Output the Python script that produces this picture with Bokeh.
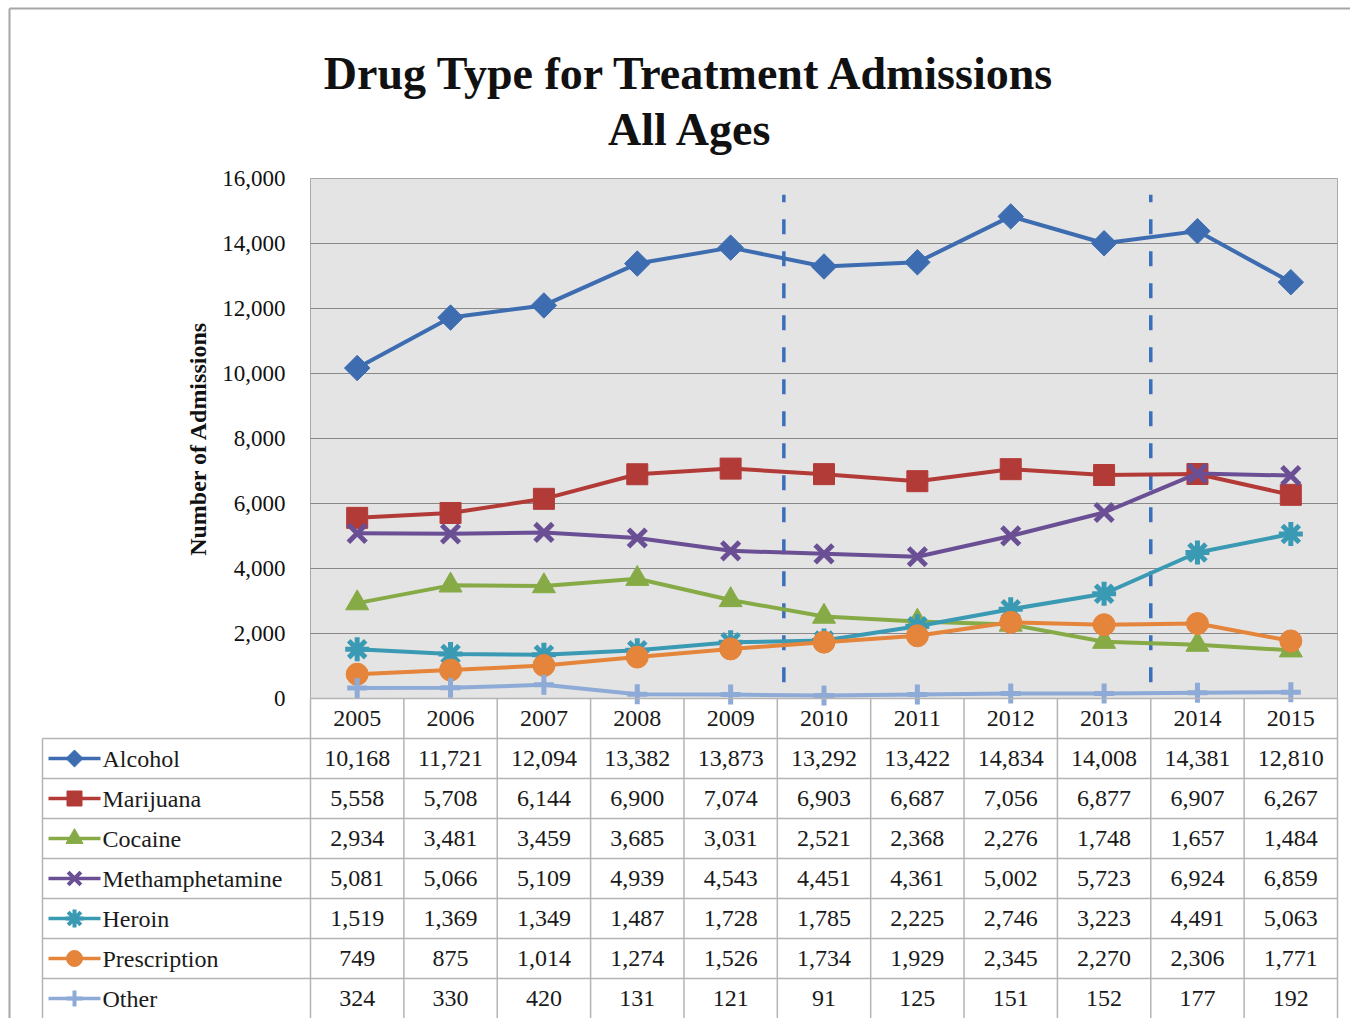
import math
from bokeh.plotting import figure
from bokeh.models import Range1d, FixedTicker, NumeralTickFormatter, LinearAxis
from bokeh.core.properties import value
from bokeh.embed import file_html
from bokeh.resources import INLINE

years = [2005, 2006, 2007, 2008, 2009, 2010, 2011, 2012, 2013, 2014, 2015]
alcohol = [10168, 11721, 12094, 13382, 13873, 13292, 13422, 14834, 14008, 14381, 12810]
marijuana = [5558, 5708, 6144, 6900, 7074, 6903, 6687, 7056, 6877, 6907, 6267]
cocaine = [2934, 3481, 3459, 3685, 3031, 2521, 2368, 2276, 1748, 1657, 1484]
meth = [5081, 5066, 5109, 4939, 4543, 4451, 4361, 5002, 5723, 6924, 6859]
heroin = [1519, 1369, 1349, 1487, 1728, 1785, 2225, 2746, 3223, 4491, 5063]
prescription = [749, 875, 1014, 1274, 1526, 1734, 1929, 2345, 2270, 2306, 1771]
other = [324, 330, 420, 131, 121, 91, 125, 151, 152, 177, 192]

names = ["Alcohol", "Marijuana", "Cocaine", "Methamphetamine", "Heroin", "Prescription", "Other"]
series = [alcohol, marijuana, cocaine, meth, heroin, prescription, other]
colors = ["#3d6db0", "#b23b38", "#86ab46", "#6b4f95", "#3b9ab3", "#e5843b", "#8eaad6"]
# diamond drawn as a square turned 45 degrees
markers = ["square", "square", "triangle", "x", "asterisk", "circle", "cross"]
angles = [math.pi / 4, 0, 0, 0, 0, 0, 0]
msizes = [18, 21, 23, 25, 24, 22, 20]
lsizes = [12, 15, 17, 18, 18, 16, 16]
period_marks = [2009.57, 2013.5]
y_ticks = [0, 2000, 4000, 6000, 8000, 10000, 12000, 14000, 16000]
title_lines = ["Drug Type for Treatment Admissions", "All Ages"]
y_label = "Number of Admissions"

FONT = "Liberation Serif"
W, H = 1350, 1018
# layout geometry in canvas pixels
PL, PR, PT, PB = 310, 1337, 178, 698      # plot area
ROW_H = 40
TBL_L = 42
COLW = (PR - PL) / 11.0
K = 16000.0 / (PB - PT)


def vx(px):
    return 2004.5 + (px - PL) / COLW


def vy(px):
    return (PB - px) * K


p = figure(width=W, height=H, output_backend="svg", toolbar_location=None,
           x_range=Range1d(vx(0), vx(W)), y_range=Range1d(vy(H), vy(0)),
           min_border=0, x_axis_location=None, y_axis_location=None)
p.outline_line_color = None
p.background_fill_color = "white"
p.border_fill_color = "white"
p.grid.visible = False

# outer frame lines
p.segment(x0=[vx(9), vx(9)], y0=[vy(8), vy(8)], x1=[vx(W), vx(9)], y1=[vy(8), vy(H)],
          line_color="#a6a6a6", line_width=2)

# titles
p.text(x=[vx(690), vx(690)], y=[vy(73), vy(129)], text=title_lines,
       text_font=value(FONT), text_font_size=value("46px"), text_font_style="bold",
       text_color="#111111", text_align="center", text_baseline="alphabetic")

# plot area
p.quad(left=[2004.5], right=[2015.5], bottom=[0], top=[16000],
       fill_color="#e4e4e4", line_color="#a8a8a8", line_width=1)
grid_y = y_ticks[1:-1]
p.segment(x0=[2004.5] * len(grid_y), y0=grid_y, x1=[2015.5] * len(grid_y), y1=grid_y,
          line_color="#888888", line_width=1.2)

ax = LinearAxis(fixed_location=2004.5, bounds=(0, 16000), ticker=FixedTicker(ticks=y_ticks),
                formatter=NumeralTickFormatter(format="0,0"))
ax.axis_line_color = None
ax.major_tick_line_color = None
ax.minor_tick_line_color = None
ax.major_tick_out = 0
ax.major_label_text_font = FONT
ax.major_label_text_font_size = "23px"
ax.major_label_text_color = "#111111"
ax.major_label_standoff = 25
ax.axis_label = y_label
ax.axis_label_text_font = FONT
ax.axis_label_text_font_size = "24px"
ax.axis_label_text_font_style = "bold"
ax.axis_label_text_color = "#111111"
ax.axis_label_standoff = 8
p.add_layout(ax, "left")

for xm in period_marks:
    p.segment(x0=[xm], y0=[500], x1=[xm], y1=[15500], line_color="#3a6fba",
              line_width=3.5, line_dash="15 17")

for name, vals, c, m, a, s in zip(names, series, colors, markers, angles, msizes):
    p.line(years, vals, line_color=c, line_width=4)
    lw = 5 if m in ("x", "asterisk", "cross") else 1
    p.scatter(years, vals, marker=m, angle=a, size=s, fill_color=c, line_color=c, line_width=lw)

# ---------------- data table ----------------
GRID_C = "#b4b4b4"
n_rows = len(names) + 1
row_top = [PB + ROW_H * r for r in range(n_rows + 1)]
hx0 = [2004.5] + [vx(TBL_L)] * (n_rows - 1)
hy = [vy(row_top[r]) for r in range(n_rows)]
p.segment(x0=hx0, y0=hy, x1=[2015.5] * len(hy), y1=hy, line_color=GRID_C, line_width=1.5)
vxs = [2004.5 + k for k in range(12)]
p.segment(x0=vxs, y0=[0] * len(vxs), x1=vxs, y1=[vy(H)] * len(vxs), line_color=GRID_C, line_width=1.5)
p.segment(x0=[vx(TBL_L)], y0=[vy(row_top[1])], x1=[vx(TBL_L)], y1=[vy(H)], line_color=GRID_C, line_width=1.5)

TXT = dict(text_font=value(FONT), text_font_size=value("24px"), text_color="#1a1a1a",
           text_baseline="middle")
p.text(x=years, y=[vy(PB + ROW_H / 2)] * len(years), text=[str(y) for y in years],
       text_align="center", **TXT)

for i, (name, vals, c, m, a, s) in enumerate(zip(names, series, colors, markers, angles, lsizes)):
    yc = vy(row_top[i + 1] + ROW_H / 2)
    p.text(x=years, y=[yc] * len(years), text=[f"{v:,}" for v in vals], text_align="center", **TXT)
    p.line([vx(48), vx(100)], [yc, yc], line_color=c, line_width=3.5)
    lw = 4 if m in ("x", "asterisk", "cross") else 1
    p.scatter([vx(74)], [yc], marker=m, angle=a, size=s, fill_color=c, line_color=c, line_width=lw)
    p.text(x=[vx(102)], y=[yc], text=[name], text_align="left", **TXT)

open("out.html", "w").write(file_html(p, INLINE))
